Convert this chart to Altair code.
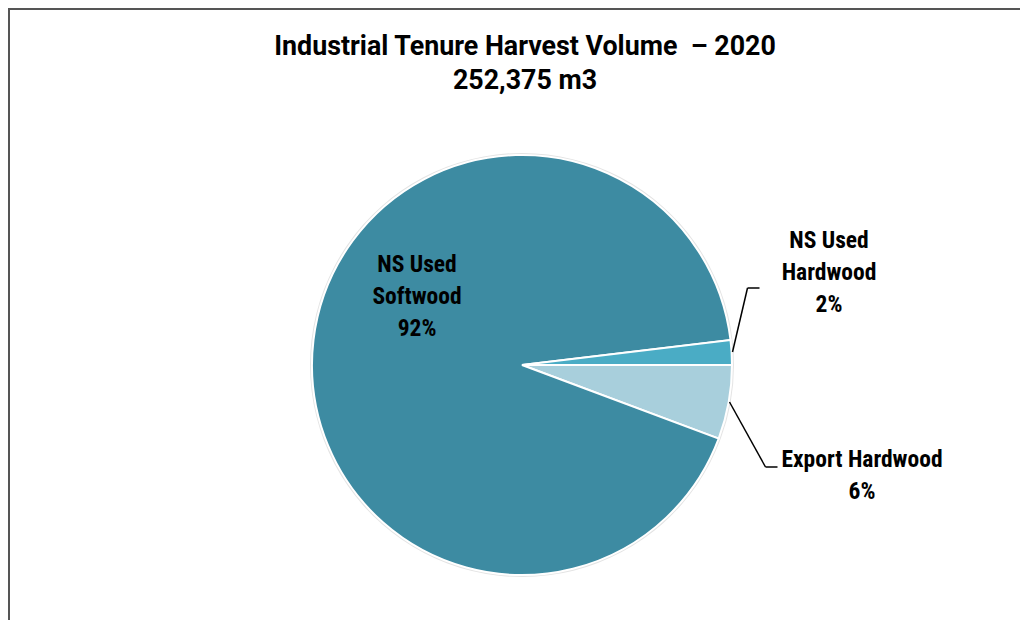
import altair as alt
import pandas as pd

# ---- data ----
categories = ["Export Hardwood", "NS Used Softwood", "NS Used Hardwood"]
label_names = ["Export Hardwood", "NS Used\nSoftwood", "NS Used\nHardwood"]
shares = [5.7, 92.4, 1.9]
colors = ["#a8cfdc", "#3d8ba2", "#4aacc5"]
title_lines = ["Industrial Tenure Harvest Volume \u00a0\u2013 2020", "252,375 m3"]

df = pd.DataFrame({
    "category": categories,
    "label": label_names,
    "share": shares,
    "order": list(range(len(categories))),
})
df["text"] = df["label"] + "\n" + df["share"].round(0).astype(int).astype(str) + "%"

W, H = 1012, 612
CX, CY, R = 514, 357, 210
PI = 3.141592653589793

base = alt.Chart(df)

shadow = base.mark_arc(radius=R + 2, color="#e4e4e4").encode(
    theta=alt.Theta("share:Q", stack=True, scale=alt.Scale(range=[PI / 2, PI / 2 + 2 * PI])),
    order=alt.Order("order:Q"),
    x=alt.value(CX), y=alt.value(CY),
)

pie = base.mark_arc(radius=R, stroke="white", strokeWidth=2).encode(
    theta=alt.Theta("share:Q", stack=True, scale=alt.Scale(range=[PI / 2, PI / 2 + 2 * PI])),
    order=alt.Order("order:Q"),
    color=alt.Color("category:N", scale=alt.Scale(domain=categories, range=colors), legend=None),
    x=alt.value(CX), y=alt.value(CY),
)

LABEL_FONT = "Liberation Sans Narrow, Roboto Condensed, Roboto, sans-serif"

def label_layer(cat, x, y):
    return base.transform_filter(alt.datum.category == cat).mark_text(
        font=LABEL_FONT, fontSize=23.5, fontWeight="bold", color="black",
        lineBreak="\n", lineHeight=32, align="center", baseline="middle",
    ).encode(text="text:N", x=alt.value(x), y=alt.value(y))

labels = (
    label_layer("NS Used Softwood", 409, 257)
    + label_layer("NS Used Hardwood", 821, 233)
    + label_layer("Export Hardwood", 854, 452)
)

def seg(x1, y1, x2, y2):
    return alt.Chart(pd.DataFrame({"a": [0]})).mark_rule(color="black", strokeWidth=1.5).encode(
        x=alt.value(x1), y=alt.value(y1), x2=alt.value(x2), y2=alt.value(y2)
    )

leaders = (
    seg(724.5, 344, 739.5, 280) + seg(739.5, 280, 751.5, 280)
    + seg(721.5, 394, 757.5, 459) + seg(757.5, 459, 769.5, 459)
)

title_df = pd.DataFrame({"t": ["\n".join(title_lines)]})
title = alt.Chart(title_df).mark_text(
    font="Roboto", fontSize=26.8, fontWeight="bold", color="black",
    lineBreak="\n", lineHeight=34, align="center", baseline="middle",
).encode(text="t:N", x=alt.value(517), y=alt.value(39))

border = alt.Chart(pd.DataFrame({"a": [0]})).mark_rect(
    fill=None, stroke="#555555", strokeWidth=2
).encode(x=alt.value(1), x2=alt.value(1200), y=alt.value(1), y2=alt.value(900))

chart = alt.layer(border, shadow, pie, leaders, labels, title).properties(
    width=W, height=H, padding=0, autosize=alt.AutoSizeParams(type="none"),
    background="white",
).configure_view(stroke=None)

chart.save("out.html", embed_options={"renderer": "svg", "actions": False})
